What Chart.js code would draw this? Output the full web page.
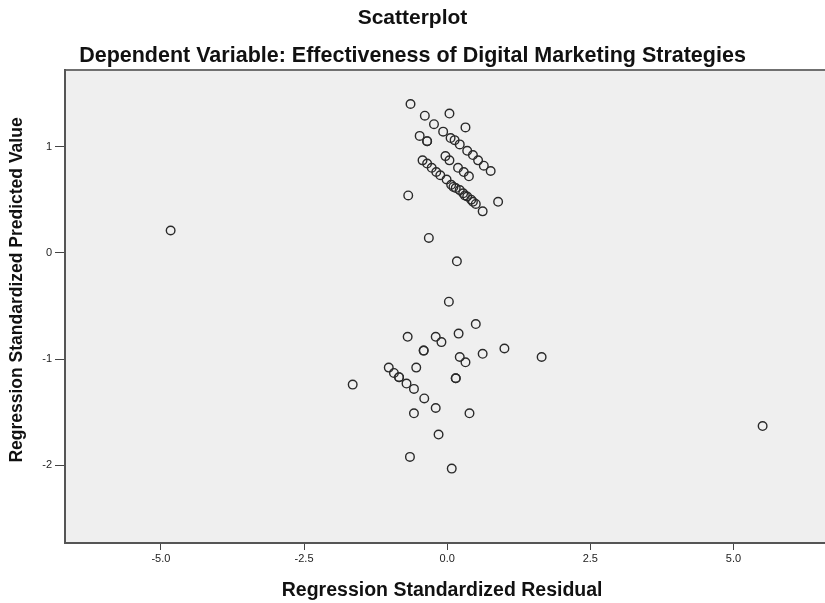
<!DOCTYPE html>
<html>
<head>
<meta charset="utf-8">
<title>Scatterplot</title>
<script src="https://cdn.jsdelivr.net/npm/chart.js@4.4.1/dist/chart.umd.min.js"></script>
<style>
  html, body { margin: 0; padding: 0; background: #ffffff; }
  #wrap { width: 825px; height: 603px; overflow: hidden; }
</style>
</head>
<body>
<div id="wrap"><canvas id="chart" width="825" height="603"></canvas></div>
<script>
// Regression diagnostics: standardized residual (x) vs standardized predicted value (y)
const residual = [
  -0.64, -0.39, 0.04, -0.23, 0.32, -0.07, -0.48, -0.35, -0.35, 0.06, 0.13, 0.22, 0.35, 0.45, 0.54, 0.64, 0.76,
  -0.43, -0.35, -0.27, -0.19, -0.12, -0.03, 0.04, 0.19, 0.29, 0.38,
  -0.01, 0.07, 0.11, 0.15, 0.22, 0.28, 0.31, 0.35, 0.42, 0.45, 0.50, 0.62, -0.68, 0.89,
  -4.83, -0.32, 0.17, 0.03,
  0.50, 0.20, -0.69, -0.20, -0.10, -0.41, -0.41, 0.22, 0.32, 0.62, 1.00, 1.65,
  -1.02, -0.93, -0.84, -0.84, -0.71, -0.58, -0.54, 0.15, 0.15, -1.65,
  -0.40, -0.20, -0.58, 0.39, -0.15, -0.65, 0.08, 5.51
];
const predicted = [
  1.40, 1.29, 1.31, 1.21, 1.18, 1.14, 1.10, 1.05, 1.05, 1.08, 1.06, 1.02, 0.96, 0.92, 0.87, 0.82, 0.77,
  0.87, 0.84, 0.80, 0.76, 0.73, 0.91, 0.87, 0.80, 0.76, 0.72,
  0.69, 0.64, 0.62, 0.61, 0.59, 0.56, 0.54, 0.53, 0.50, 0.48, 0.46, 0.39, 0.54, 0.48,
  0.21, 0.14, -0.08, -0.46,
  -0.67, -0.76, -0.79, -0.79, -0.84, -0.92, -0.92, -0.98, -1.03, -0.95, -0.90, -0.98,
  -1.08, -1.13, -1.17, -1.17, -1.23, -1.28, -1.08, -1.18, -1.18, -1.24,
  -1.37, -1.46, -1.51, -1.51, -1.71, -1.92, -2.03, -1.63
];

const xTickValues = [-5, -2.5, 0, 2.5, 5];
const xTickLabels = ['-5.0', '-2.5', '0.0', '2.5', '5.0'];
const yTickValues = [-2, -1, 0, 1];
const yTickLabels = ['-2', '-1', '0', '1'];

const points = residual.map((r, i) => ({ x: r, y: predicted[i] }));

const fontFamily = '"Liberation Sans", Arial, sans-serif';
const yAxisTitle = 'Regression Standardized Predicted Value';

// Grey plot panel running out to the canvas edge, with a darker line along its top
const panel = {
  id: 'panel',
  beforeDraw(chart) {
    const { ctx, chartArea: a } = chart;
    ctx.save();
    ctx.fillStyle = '#efefef';
    ctx.fillRect(a.left, a.top, chart.width - a.left, a.bottom - a.top);
    ctx.strokeStyle = '#707070';
    ctx.lineWidth = 2;
    ctx.beginPath();
    ctx.moveTo(a.left, a.top);
    ctx.lineTo(chart.width, a.top);
    ctx.stroke();
    ctx.beginPath();
    ctx.strokeStyle = '#555';
    ctx.moveTo(a.right, a.bottom);
    ctx.lineTo(chart.width, a.bottom);
    ctx.stroke();
    ctx.restore();
  },
  // vertical axis title, set a little above the axis midpoint
  afterDraw(chart) {
    const { ctx } = chart;
    ctx.save();
    ctx.translate(17, 290);
    ctx.rotate(-Math.PI / 2);
    ctx.font = 'bold 17.5px ' + fontFamily;
    ctx.fillStyle = '#111';
    ctx.textAlign = 'center';
    ctx.textBaseline = 'middle';
    ctx.fillText(yAxisTitle, 0, 0);
    ctx.restore();
  }
};

new Chart(document.getElementById('chart'), {
  type: 'scatter',
  data: {
    datasets: [{
      data: points,
      pointStyle: 'circle',
      pointRadius: 4.3,
      pointHoverRadius: 4.3,
      pointBorderWidth: 1.4,
      pointBorderColor: '#2a2a2a',
      pointBackgroundColor: 'rgba(0,0,0,0)'
    }]
  },
  options: {
    responsive: false,
    animation: false,
    layout: { padding: 0 },
    plugins: {
      legend: { display: false },
      tooltip: { enabled: false },
      title: {
        display: true,
        text: 'Scatterplot',
        color: '#111',
        font: { family: fontFamily, size: 21, weight: 'bold' },
        padding: { top: 6, bottom: 12 }
      },
      subtitle: {
        display: true,
        text: 'Dependent Variable: Effectiveness of Digital Marketing Strategies',
        color: '#111',
        font: { family: fontFamily, size: 21.5, weight: 'bold' },
        padding: { top: 0, bottom: 1 }
      }
    },
    scales: {
      x: {
        type: 'linear',
        min: -6.675,
        max: 6.50,
        afterFit(scale) { scale.height = 60; },
        afterBuildTicks(scale) { scale.ticks = xTickValues.map(v => ({ value: v })); },
        border: { display: true, color: '#555', width: 2 },
        grid: { drawOnChartArea: false, drawTicks: true, tickLength: 7, color: '#444', tickWidth: 1 },
        ticks: {
          color: '#222',
          padding: 2,
          maxRotation: 0,
          font: { family: fontFamily, size: 11 },
          callback(value) {
            const i = xTickValues.indexOf(value);
            return i >= 0 ? xTickLabels[i] : '';
          }
        },
        title: {
          display: true,
          text: 'Regression Standardized Residual',
          color: '#111',
          font: { family: fontFamily, size: 19.5, weight: 'bold' },
          padding: { top: 0, bottom: 1 }
        }
      },
      y: {
        type: 'linear',
        min: -2.73,
        max: 1.72,
        afterFit(scale) { scale.width = 65; },
        afterBuildTicks(scale) { scale.ticks = yTickValues.map(v => ({ value: v })); },
        border: { display: true, color: '#555', width: 2 },
        grid: { drawOnChartArea: false, drawTicks: true, tickLength: 10, color: '#444', tickWidth: 1 },
        ticks: {
          color: '#222',
          padding: 3,
          font: { family: fontFamily, size: 11 },
          callback(value) {
            const i = yTickValues.indexOf(value);
            return i >= 0 ? yTickLabels[i] : '';
          }
        },
        title: { display: false }
      }
    }
  },
  plugins: [panel]
});
</script>
</body>
</html>
